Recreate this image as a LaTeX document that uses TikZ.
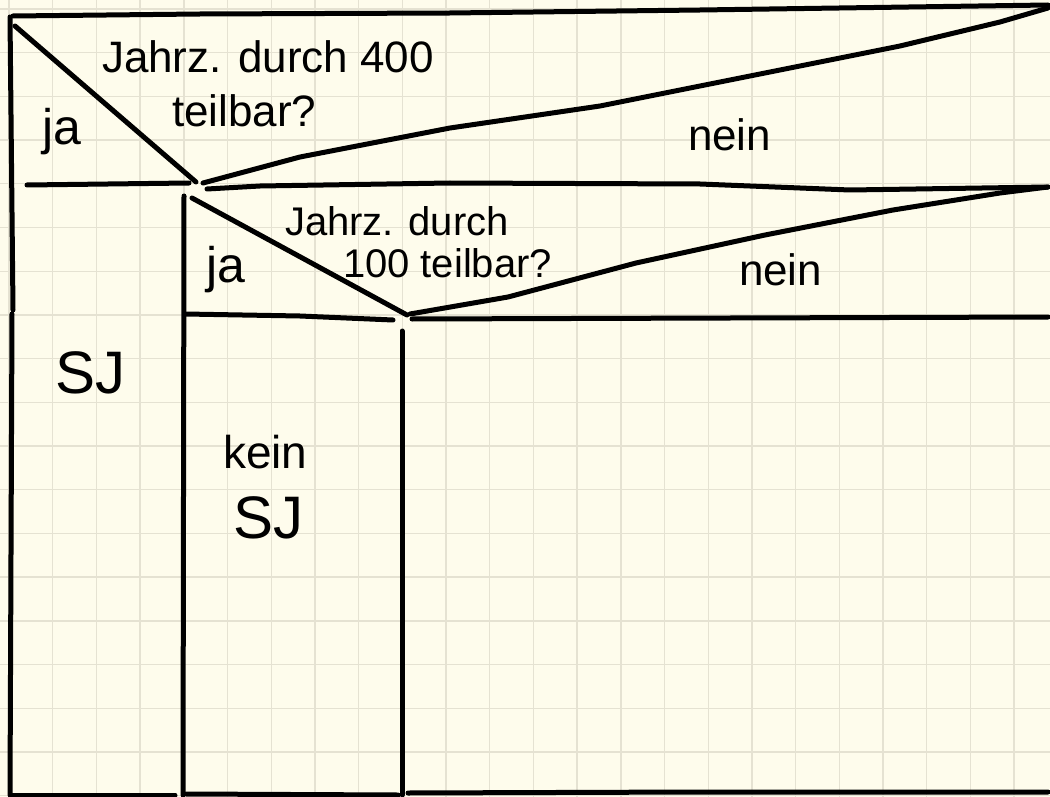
\documentclass[tikz,border=0pt]{standalone}
\usepackage{fontspec}
\setmainfont{Liberation Sans}
\definecolor{paper}{RGB}{254, 252, 236}
\definecolor{gridbeige}{RGB}{229, 226, 210}
\usetikzlibrary{positioning}

\begin{document}
\begin{tikzpicture}[x=0.5pt, y=-0.5pt,
  pen/.style={line width=2.5pt, line cap=round, line join=round},
  gridline/.style={draw=gridbeige, line width=0.7pt},
  hand/.style={inner sep=0pt, outer sep=0pt, font=\fontsize{22}{26}\selectfont},
  bighand/.style={inner sep=0pt, outer sep=0pt, font=\fontsize{30}{34}\selectfont}
]
  % paper with grid
  \fill[paper] (0,0) rectangle (1050,797);
  \useasboundingbox (0,0) rectangle (1050,797);
  \foreach \k in {0,...,23}
    \draw[gridline] ({9+43.7*\k},0) -- ({9+43.7*\k},797);
  \foreach \k in {0,...,18}
    \draw[gridline] (0,{9+43.7*\k}) -- (1050,{9+43.7*\k});

  % corner points of the structogram
  \coordinate (tl) at (13,16);
  \coordinate (tr) at (1048,5);
  \coordinate (va) at (196,182);
  \coordinate (vb) at (407,315);
  \coordinate (ra) at (1048,187);
  \coordinate (rb) at (1048,317);

  % outer frame
  \draw[pen] (tl) -- (200,14) -- (450,13) -- (700,10) -- (tr);
  \draw[pen] (10,17) -- (13,310);
  \draw[pen] (12,314) -- (10,795);
  \draw[pen] (11,795) -- (175,795);
  \draw[pen] (186,794) -- (398,795);
  \draw[pen] (408,793) -- (700,792) -- (1048,792);

  % first decision
  \draw[pen] (15,26) -- (va);
  \draw[pen] (203,183) -- (300,157) -- (450,128) -- (600,106) -- (750,76)
    -- (900,46) -- (1000,22) -- (1048,8);
  \draw[pen] (27,185) -- (189,183);
  \draw[pen] (207,189) -- (260,186) -- (450,183) -- (700,184) -- (850,190) -- (ra);

  % second decision
  \draw[pen] (184,196) -- (183,795);
  \draw[pen] (192,198) -- (vb);
  \draw[pen] (410,314) -- (508,297) -- (636,263) -- (765,235) -- (893,210)
    -- (1000,193) -- (ra);
  \draw[pen] (185,314) -- (300,316) -- (393,320);
  \draw[pen] (412,319) -- (rb);
  \draw[pen] (402,331) -- (402,795);

  % labels
  \node[hand, anchor=north west, align=left] (q400) at (102,41)
    {Jahrz. durch 400\\[1pt]\hspace*{35pt}teilbar?};
  \node[hand, anchor=base west, font=\fontsize{25}{28}\selectfont] (ja400) at (42,145) {ja};
  \node[hand, anchor=base west] (nein400) at (688,151) {nein};
  \node[hand, anchor=north west, align=left, font=\fontsize{20}{21}\selectfont] (q100) at (285,207)
    {Jahrz. durch\\\hspace*{29pt}100 teilbar?};
  \node[hand, anchor=base west, font=\fontsize{25}{28}\selectfont] (ja100) at (206,282) {ja};
  \node[hand, anchor=base west] (nein100) at (739,285) {nein};
  \node[bighand, anchor=base west] (sj) at (55,393) {SJ};
  \node[hand, anchor=base west, font=\fontsize{23}{26}\selectfont] (kein) at (223,468) {kein};
  \node[bighand, anchor=base west] (keinsj) at (233,538) {SJ};
\end{tikzpicture}
\end{document}
